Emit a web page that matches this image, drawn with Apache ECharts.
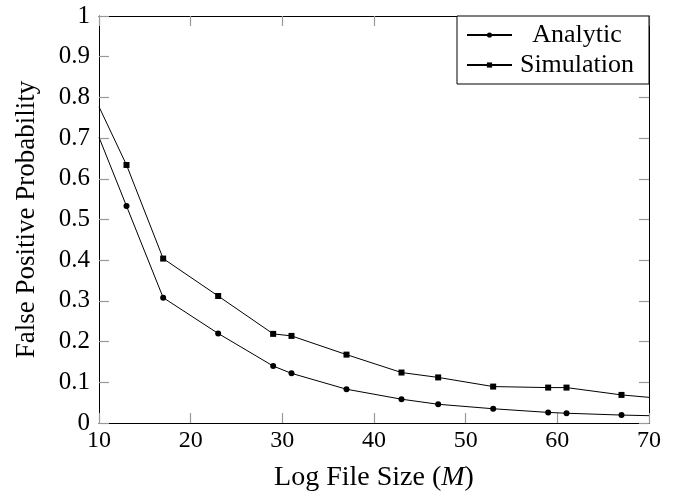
<!DOCTYPE html>
<html>
<head>
<meta charset="utf-8">
<script src="https://cdn.jsdelivr.net/npm/echarts@6/dist/echarts.min.js"></script>
<style>
  html, body { margin: 0; padding: 0; background: #fff; }
  #chart { width: 681px; height: 497px; }
</style>
</head>
<body>
<div id="chart"></div>
<script>
// Log file size M (the curves run edge to edge of the x range)
const fileSizes = [10, 13, 17, 23, 29, 31, 37, 43, 47, 53, 59, 61, 67, 70];
// False positive probability, analytic model
const analytic = [0.702, 0.533, 0.308, 0.220, 0.140, 0.122, 0.083, 0.0585, 0.046, 0.035, 0.026, 0.024, 0.0195, 0.018];
// False positive probability, simulation
const simulation = [0.777, 0.634, 0.404, 0.312, 0.219, 0.214, 0.168, 0.124, 0.112, 0.0895, 0.087, 0.087, 0.069, 0.063];

const xTicks = { min: 10, max: 70, interval: 10 };
const yTicks = { min: 0, max: 1, interval: 0.1 };

const serif = '"Liberation Serif", "Times New Roman", serif';
const tickGray = '#999999';

// Endpoints sit on the plot border and carry no marker
function toPoints(values) {
  return values.map((v, i) => {
    const item = { value: [fileSizes[i], v] };
    if (i === 0 || i === values.length - 1) item.symbol = 'none';
    return item;
  });
}

const chart = echarts.init(document.getElementById('chart'), null, { renderer: 'canvas' });

function frameAxis(extra) {
  return Object.assign({
    type: 'value',
    axisLine: { show: true, onZero: false, lineStyle: { color: '#000', width: 1 } },
    axisTick: { show: true, inside: true, length: 10, lineStyle: { color: tickGray, width: 1.2 } },
    splitLine: { show: false }
  }, extra);
}

chart.setOption({
  animation: false,
  backgroundColor: '#fff',
  grid: { left: 99, right: 32, top: 16, bottom: 71, containLabel: false },
  xAxis: [
    frameAxis({
      position: 'bottom',
      min: xTicks.min, max: xTicks.max, interval: xTicks.interval,
      axisLabel: { color: '#000', fontFamily: serif, fontSize: 24, margin: 6 },
      name: 'Log File Size ({i|M})',
      nameLocation: 'middle',
      nameGap: 41,
      nameTextStyle: {
        color: '#000', fontFamily: serif, fontSize: 28,
        rich: { i: { fontFamily: serif, fontSize: 28, fontStyle: 'italic', color: '#000' } }
      }
    }),
    frameAxis({
      position: 'top',
      min: xTicks.min, max: xTicks.max, interval: xTicks.interval,
      axisLabel: { show: false }
    })
  ],
  yAxis: [
    frameAxis({
      position: 'left',
      min: yTicks.min, max: yTicks.max, interval: yTicks.interval,
      axisLabel: { color: '#000', fontFamily: serif, fontSize: 25, margin: 9 },
      name: 'False Positive Probability',
      nameLocation: 'middle',
      nameGap: 59,
      nameTextStyle: { color: '#000', fontFamily: serif, fontSize: 27 }
    }),
    frameAxis({
      position: 'right',
      min: yTicks.min, max: yTicks.max, interval: yTicks.interval,
      axisLabel: { show: false }
    })
  ],
  legend: {
    orient: 'vertical',
    right: 32,
    top: 16,
    padding: [6, 12, 6, 9],
    itemGap: 4,
    itemWidth: 45,
    itemHeight: 6.5,
    borderColor: '#000',
    borderWidth: 1,
    borderRadius: 0,
    backgroundColor: '#fff',
    data: ['Analytic', 'Simulation'],
    formatter: '{t|{name}}',
    textStyle: {
      color: '#000', fontFamily: serif, fontSize: 26,
      rich: { t: { width: 120, align: 'center', lineHeight: 30, fontFamily: serif, fontSize: 26, color: '#000' } }
    }
  },
  series: [
    {
      name: 'Analytic',
      type: 'line',
      xAxisIndex: 0, yAxisIndex: 0,
      data: toPoints(analytic),
      symbol: 'circle',
      symbolSize: 6,
      showAllSymbol: true,
      lineStyle: { color: '#000', width: 1 },
      itemStyle: { color: '#000' },
      clip: true
    },
    {
      name: 'Simulation',
      type: 'line',
      xAxisIndex: 0, yAxisIndex: 0,
      data: toPoints(simulation),
      symbol: 'rect',
      symbolSize: 6,
      showAllSymbol: true,
      lineStyle: { color: '#000', width: 1 },
      itemStyle: { color: '#000' },
      clip: true
    }
  ]
});
</script>
</body>
</html>
